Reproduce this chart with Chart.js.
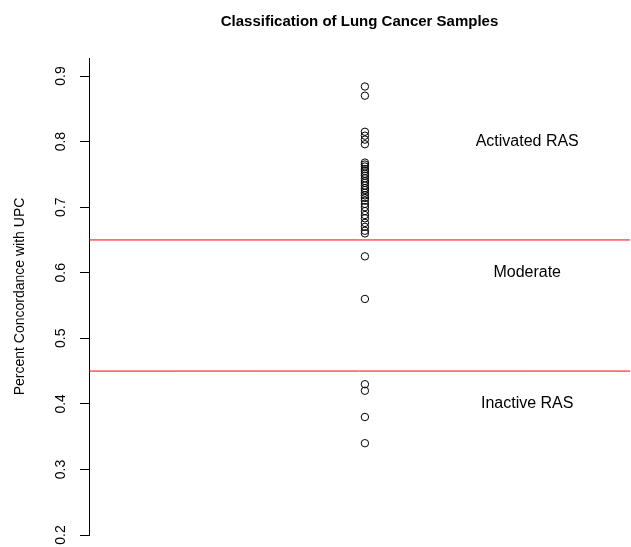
<!DOCTYPE html>
<html>
<head>
<meta charset="utf-8">
<script src="https://cdn.jsdelivr.net/npm/chart.js@4/dist/chart.umd.min.js"></script>
<style>
  html, body { margin: 0; padding: 0; background: #fff; }
  #wrap { width: 631px; height: 547px; }
</style>
</head>
<body>
<div id="wrap"><canvas id="lung_chart"></canvas></div>
<script>
// concordance values for each sample (all plotted at x = 1)
const concordance = [
    0.884, 0.870,
    0.815, 0.809, 0.803, 0.796,
    0.768, 0.765, 0.762, 0.758, 0.755, 0.751, 0.748, 0.744, 0.740, 0.737,
    0.733, 0.729, 0.726, 0.722, 0.718, 0.714, 0.710, 0.705, 0.700, 0.694,
    0.688, 0.683, 0.676, 0.670, 0.664, 0.660,
    0.625, 0.560,
    0.430, 0.420, 0.380, 0.340
];
const sampleX = 1;
const cutoffs = [0.65, 0.45];
const regionLabels = ['Activated RAS', 'Moderate', 'Inactive RAS'];
const regionY = [0.8, 0.6, 0.4];
const regionX = 1.3;
const yTicks = [0.2, 0.3, 0.4, 0.5, 0.6, 0.7, 0.8, 0.9];
const xMin = 0.49;
const xMax = 1.49;
const yMin = 0.2;
const yMax = 0.9275;

const fontFam = '"Liberation Sans", Arial, Helvetica, sans-serif';

const points = concordance.map(v => ({x: sampleX, y: v}));

const cutoffSets = cutoffs.map(c => ({
    type: 'line',
    data: [{x: xMin, y: c}, {x: xMax, y: c}],
    borderColor: 'rgb(255,0,0)',
    borderWidth: 1,
    pointRadius: 0,
    showLine: true,
    fill: false
}));

// texts R would draw with title(), axis() and text()
const textPlugin = {
    id: 'rtext',
    afterDraw(chart) {
        const ctx = chart.ctx;
        const xs = chart.scales.x;
        const ys = chart.scales.y;
        const area = chart.chartArea;
        ctx.save();
        ctx.fillStyle = '#000';

        // main title
        ctx.font = 'bold 15px ' + fontFam;
        ctx.textAlign = 'center';
        ctx.textBaseline = 'middle';
        ctx.fillText('Classification of Lung Cancer Samples', (area.left + area.right) / 2, 22);

        // y tick labels, rotated
        ctx.font = '14px ' + fontFam;
        yTicks.forEach(t => {
            const py = ys.getPixelForValue(t);
            ctx.save();
            ctx.translate(61, py);
            ctx.rotate(-Math.PI / 2);
            ctx.fillText(t.toFixed(1), 0, 0);
            ctx.restore();
        });

        // y axis title
        ctx.save();
        ctx.translate(20, (area.top + area.bottom) / 2);
        ctx.rotate(-Math.PI / 2);
        ctx.fillText('Percent Concordance with UPC', 0, 0);
        ctx.restore();

        // region labels
        ctx.font = '16px ' + fontFam;
        for (let i = 0; i < regionLabels.length; i++) {
            ctx.fillText(regionLabels[i], xs.getPixelForValue(regionX), ys.getPixelForValue(regionY[i]));
        }
        ctx.restore();
    }
};

const chart1 = document.getElementById('lung_chart');

new Chart(chart1, {
    type: 'scatter',
    data: {
        datasets: [{
            label: 'Samples',
            data: points,
            pointStyle: 'circle',
            pointRadius: 3.7,
            pointHoverRadius: 3.7,
            backgroundColor: 'rgba(0,0,0,0)',
            borderColor: '#000',
            borderWidth: 1
        }].concat(cutoffSets)
    },
    options: {
        responsive: true,
        maintainAspectRatio: false,
        animation: false,
        layout: {
            autoPadding: false,
            padding: {left: 80, right: 1, top: 58, bottom: 12}
        },
        scales: {
            x: {
                type: 'linear',
                display: false,
                min: xMin,
                max: xMax
            },
            y: {
                type: 'linear',
                min: yMin,
                max: yMax,
                afterBuildTicks: s => {
                    s.ticks = yTicks.map(v => ({value: v}));
                },
                ticks: {
                    display: false
                },
                grid: {
                    drawOnChartArea: false,
                    drawTicks: true,
                    tickLength: 9,
                    color: '#000',
                    lineWidth: 1
                },
                border: {
                    display: true,
                    color: '#000',
                    width: 1
                },
                title: {
                    display: false
                }
            }
        },
        plugins: {
            legend: {display: false},
            tooltip: {enabled: false},
            title: {display: false}
        }
    },
    plugins: [textPlugin]
});
</script>
</body>
</html>
